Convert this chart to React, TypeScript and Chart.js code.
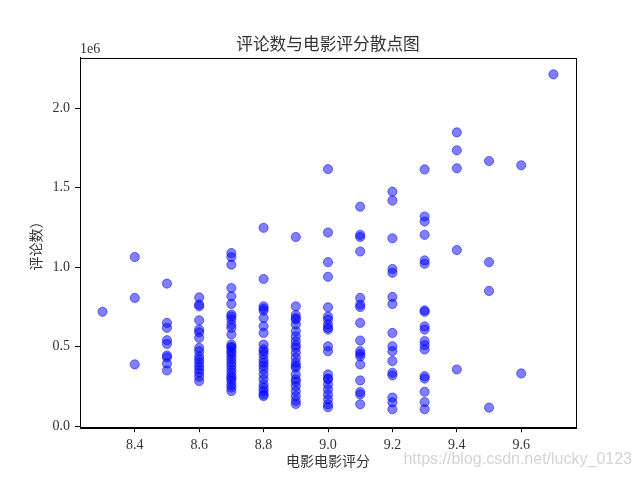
import React, { useEffect, useRef } from "react";
import { Chart, registerables } from "chart.js";

Chart.register(...registerables);

// Tick positions
const xTicks = [8.4, 8.6, 8.8, 9.0, 9.2, 9.4, 9.6];
const yTicks = [0, 500000, 1000000, 1500000, 2000000];

// Ratings (x) and review counts (y) per rating
const ratings = [8.3, 8.4, 8.5, 8.6, 8.7, 8.8, 8.9, 9.0, 9.1, 9.2, 9.3, 9.4, 9.5, 9.6, 9.7];

const counts83 = [720000];
const counts84 = [1064000, 807000, 389000];
const counts85 = [897000, 650000, 619000, 541000, 518000, 445000, 434000, 395000, 351000];
const counts86 = [810000, 765000, 754000, 666000, 608000, 591000, 556000, 493000, 472000, 440000, 420000, 400000, 378000, 357000, 337000, 312000, 284000];
const counts87 = [1089000, 1064000, 1016000, 869000, 817000, 769000, 702000, 690000, 671000, 640000, 619000, 577000, 514000, 500000, 493000, 472000, 460000, 440000, 420000, 400000, 380000, 357000, 337000, 315000, 300000, 284000, 260000, 243000, 221000];
const counts88 = [1248000, 926000, 754000, 740000, 727000, 681000, 629000, 587000, 514000, 483000, 470000, 451000, 420000, 400000, 380000, 357000, 326000, 295000, 263000, 240000, 221000, 200000, 190000];
const counts89 = [1190000, 754000, 700000, 680000, 671000, 640000, 598000, 566000, 535000, 510000, 493000, 462000, 431000, 400000, 380000, 368000, 326000, 295000, 280000, 253000, 221000, 190000, 160000, 140000];
const counts90 = [1617000, 1218000, 1032000, 940000, 748000, 690000, 671000, 640000, 620000, 608000, 503000, 472000, 326000, 300000, 295000, 263000, 232000, 200000, 169000, 138000, 120000];
const counts91 = [1381000, 1204000, 1190000, 1099000, 807000, 765000, 750000, 650000, 539000, 472000, 455000, 440000, 389000, 288000, 215000, 200000, 138000];
const counts92 = [1475000, 1419000, 1182000, 989000, 965000, 813000, 769000, 587000, 503000, 472000, 410000, 336000, 320000, 180000, 150000, 107000];
const counts93 = [1615000, 1319000, 1287000, 1204000, 1043000, 1022000, 729000, 720000, 628000, 608000, 535000, 510000, 483000, 315000, 300000, 217000, 152000, 107000];
const counts94 = [1848000, 1735000, 1622000, 1108000, 357000];
const counts95 = [1668000, 1032000, 851000, 117000];
const counts96 = [1641000, 332000];
const counts97 = [2213000];

const countsByRating = [
  counts83, counts84, counts85, counts86, counts87, counts88, counts89, counts90,
  counts91, counts92, counts93, counts94, counts95, counts96, counts97,
];

const titleText = "评论数与电影评分散点图";
const xTitle = "电影电影评分";
const yTitle = "评论数）";
const offsetText = "1e6";
const watermark = "https://blog.csdn.net/lucky_0123";

const tickFont = { family: "'Liberation Serif', 'DejaVu Serif', serif", size: 14 };
const cjkFont = "'Noto Sans CJK SC', sans-serif";

const extrasPlugin = {
  id: "extras",
  afterDraw(chart: any) {
    const { ctx, chartArea } = chart;
    ctx.save();
    // axes frame
    ctx.strokeStyle = "#000";
    ctx.lineWidth = 1;
    ctx.strokeRect(
      Math.round(chartArea.left) + 0.5,
      Math.round(chartArea.top) + 0.5,
      Math.round(chartArea.right - chartArea.left),
      Math.round(chartArea.bottom - chartArea.top)
    );
    // offset text
    ctx.fillStyle = "#333";
    ctx.font = "14px 'Liberation Serif', 'DejaVu Serif', serif";
    ctx.textAlign = "left";
    ctx.textBaseline = "middle";
    ctx.fillText(offsetText, chartArea.left, 49);
    // watermark
    ctx.fillStyle = "rgba(205,205,205,0.85)";
    ctx.font = "16px 'Liberation Sans', Arial, sans-serif";
    ctx.textAlign = "right";
    ctx.fillText(watermark, 632, 460);
    ctx.restore();
  },
};

export default function App() {
  const canvasRef = useRef<HTMLCanvasElement | null>(null);

  useEffect(() => {
    if (!canvasRef.current) return;
    const points: { x: number; y: number }[] = [];
    ratings.forEach((r, i) => {
      countsByRating[i].forEach((c) => points.push({ x: r, y: c }));
    });

    const chart = new Chart(canvasRef.current, {
      type: "scatter",
      data: {
        datasets: [
          {
            data: points,
            backgroundColor: "rgba(0,0,255,0.5)",
            borderColor: "rgba(0,0,255,0.5)",
            borderWidth: 1,
            pointRadius: 4.6,
            pointHoverRadius: 4.6,
          },
        ],
      },
      options: {
        animation: false,
        responsive: false,
        devicePixelRatio: 1,
        layout: { padding: { left: 0, right: 64, top: 0, bottom: 0 } },
        plugins: {
          legend: { display: false },
          tooltip: { enabled: false },
          title: {
            display: true,
            fullSize: false,
            text: titleText,
            color: "#333",
            font: { family: cjkFont, size: 16.7, weight: "normal", lineHeight: 1.2 },
            padding: { top: 34, bottom: 3.6 },
          },
        },
        scales: {
          x: {
            type: "linear",
            min: 8.23,
            max: 9.77,
            afterBuildTicks: (scale: any) => {
              scale.ticks = xTicks.map((v) => ({ value: v }));
            },
            afterFit: (scale: any) => {
              scale.height = 52.8;
            },
            ticks: {
              autoSkip: false,
              maxRotation: 0,
              padding: 5,
              color: "#333",
              font: tickFont,
              callback: (v: any) => Number(v).toFixed(1),
            },
            grid: {
              display: true,
              drawOnChartArea: false,
              drawTicks: true,
              tickLength: 5,
              color: "#000",
            },
            border: { display: true, color: "#000", width: 1 },
            title: {
              display: true,
              text: xTitle,
              color: "#333",
              font: { family: cjkFont, size: 14, lineHeight: 1.2 },
              padding: { top: 0, bottom: 10.6 },
            },
          },
          y: {
            type: "linear",
            min: -6000,
            max: 2318000,
            afterBuildTicks: (scale: any) => {
              scale.ticks = yTicks.map((v) => ({ value: v }));
            },
            afterFit: (scale: any) => {
              scale.width = 80;
            },
            ticks: {
              autoSkip: false,
              padding: 5,
              color: "#333",
              font: tickFont,
              callback: (v: any) => (Number(v) / 1e6).toFixed(1),
            },
            grid: {
              display: true,
              drawOnChartArea: false,
              drawTicks: true,
              tickLength: 5,
              color: "#000",
            },
            border: { display: true, color: "#000", width: 1 },
            title: {
              display: true,
              text: yTitle,
              color: "#333",
              font: { family: cjkFont, size: 14, lineHeight: 1.2 },
              padding: { top: 27, bottom: 0 },
            },
          },
        },
      },
      plugins: [extrasPlugin],
    } as any);

    return () => chart.destroy();
  }, []);

  return (
    <div style={{ position: "fixed", left: 0, top: 0, width: 640, height: 480, background: "#fff" }}>
      <canvas ref={canvasRef} width={640} height={480} />
    </div>
  );
}
